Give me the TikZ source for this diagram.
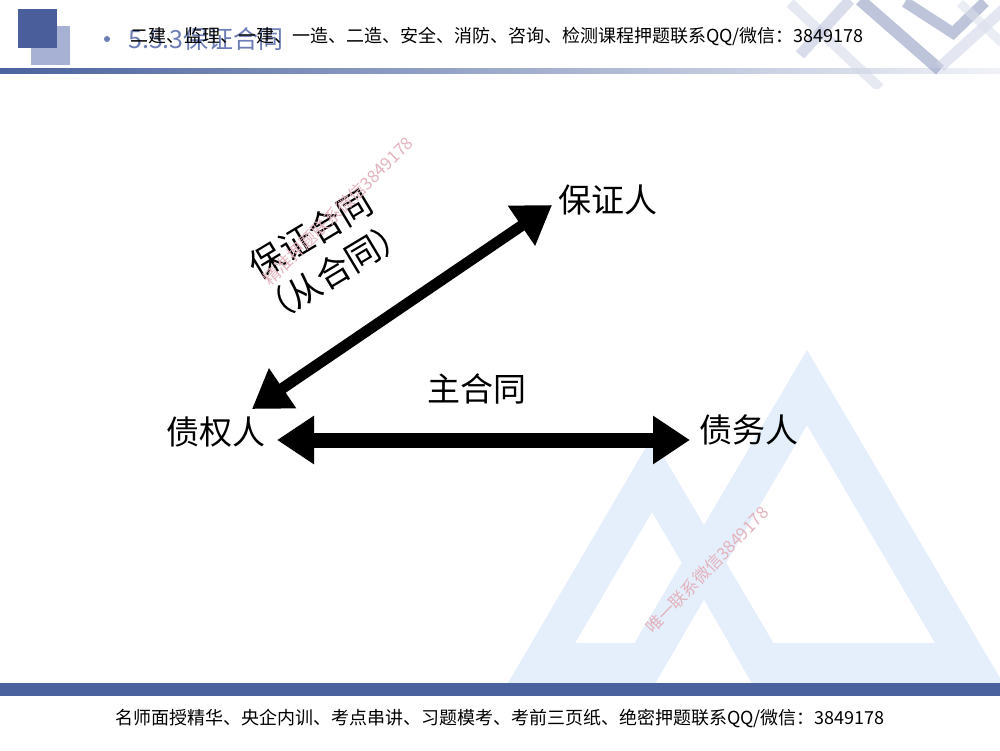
\documentclass[tikz,border=0pt]{standalone}
\usepackage{fontspec}
\newfontfamily\cjk{Noto Sans CJK SC}
\usetikzlibrary{arrows.meta}
\definecolor{squaredark}{HTML}{4B5E9C}
\definecolor{squarelight}{HTML}{A7B1D3}
\definecolor{titleblue}{HTML}{6C7DB5}
\definecolor{barblue}{HTML}{4A629E}
\definecolor{logoblue}{HTML}{E4EFFB}
\definecolor{wmpink}{HTML}{E3B3BD}
\begin{document}
\begin{tikzpicture}[x=1pt,y=-1pt,
party/.style={font=\cjk\fontsize{33}{40}\selectfont,inner sep=0pt},
wm/.style={font=\cjk\fontsize{17}{17}\selectfont,text=wmpink,inner sep=0pt},
deco/.style={line width=#1,opacity=.55},
big arrow/.style={line width=#1,{Triangle[length=37pt,width=46pt]}-{Triangle[length=37pt,width=46pt]}}]
\useasboundingbox (0,0) rectangle (1000,750);
\fill[white] (0,0) rectangle (1000,750);

% logo in the background
\fill[logoblue,even odd rule] (508,683) -- (652,437) -- (797,683) -- cycle (652,512) -- (575,643) -- (729,643) -- cycle;
\fill[logoblue,even odd rule] (611,683) -- (807,350) -- (1003,683) -- cycle (807,425) -- (679,643) -- (935,643) -- cycle;
\fill[white] (704,600) -- (655,684) -- (752,684) -- cycle;

% header
\fill[squarelight] (31,26) rectangle (70,65);
\fill[squaredark] (18,9) rectangle (57,48);
\shade[left color=barblue,right color=barblue!8] (0,68) rectangle (1000,73);
\begin{scope}
\clip (780,0) rectangle (1000,88);
\draw[deco=10pt,color=squarelight!50] (790,3) -- (880,88);
\draw[deco=12pt,color=squaredark!65] (860,0) -- (940,70);
\draw[deco=11pt,color=squarelight!80] (800,55) -- (850,0);
\draw[deco=11pt,color=squaredark!65] (905,2) -- (953,33) -- (985,2);
\draw[deco=11pt,color=squarelight!55] (940,67) -- (1005,8);
\draw[deco=9pt,color=squarelight!40] (960,3) -- (1002,43);
\end{scope}
\fill[titleblue] (107,39) circle (3);
\node[anchor=west,inner sep=0pt,text=titleblue,font=\cjk\fontsize{25}{25}\selectfont] (title) at (128,39) {5.5.3保证合同};
\node[anchor=west,inner sep=0pt,font=\cjk\fontsize{18}{18}\selectfont] (adtop) at (130,36) {二建、监理、一建、一造、二造、安全、消防、咨询、检测课程押题联系QQ/微信：3849178};

% footer
\fill[barblue] (0,683) rectangle (1000,696);
\node[inner sep=0pt,font=\cjk\fontsize{18}{18}\selectfont] (adbottom) at (500,718) {名师面授精华、央企内训、考点串讲、习题模考、考前三页纸、绝密押题联系QQ/微信：3849178};

% parties
\node[party] (guarantor) at (608,200) {保证人};
\node[party] (creditor) at (216,432) {债权人};
\node[party] (debtor) at (749,430) {债务人};
\node[party] (main) at (477,389) {主合同};
\node[party,rotate=31,align=center,font=\cjk\fontsize{34}{44}\selectfont] (sub) at (322,253) {保证合同\\（从合同）};

% arrow ends
\coordinate (cr-d) at (252,409);
\coordinate (gu-d) at (552,205);
\coordinate (cr-h) at (277,440);
\coordinate (de-h) at (690,440);
\draw[big arrow=11pt] (cr-d) -- (gu-d);
\draw[big arrow=15pt] (cr-h) -- (de-h);

% watermarks
\node[wm,rotate=44.5] (wm1) at (338,211) {精准押题联系微信3849178};
\node[wm,rotate=46] (wm2) at (707,570) {唯一联系微信3849178};
\end{tikzpicture}
\end{document}
